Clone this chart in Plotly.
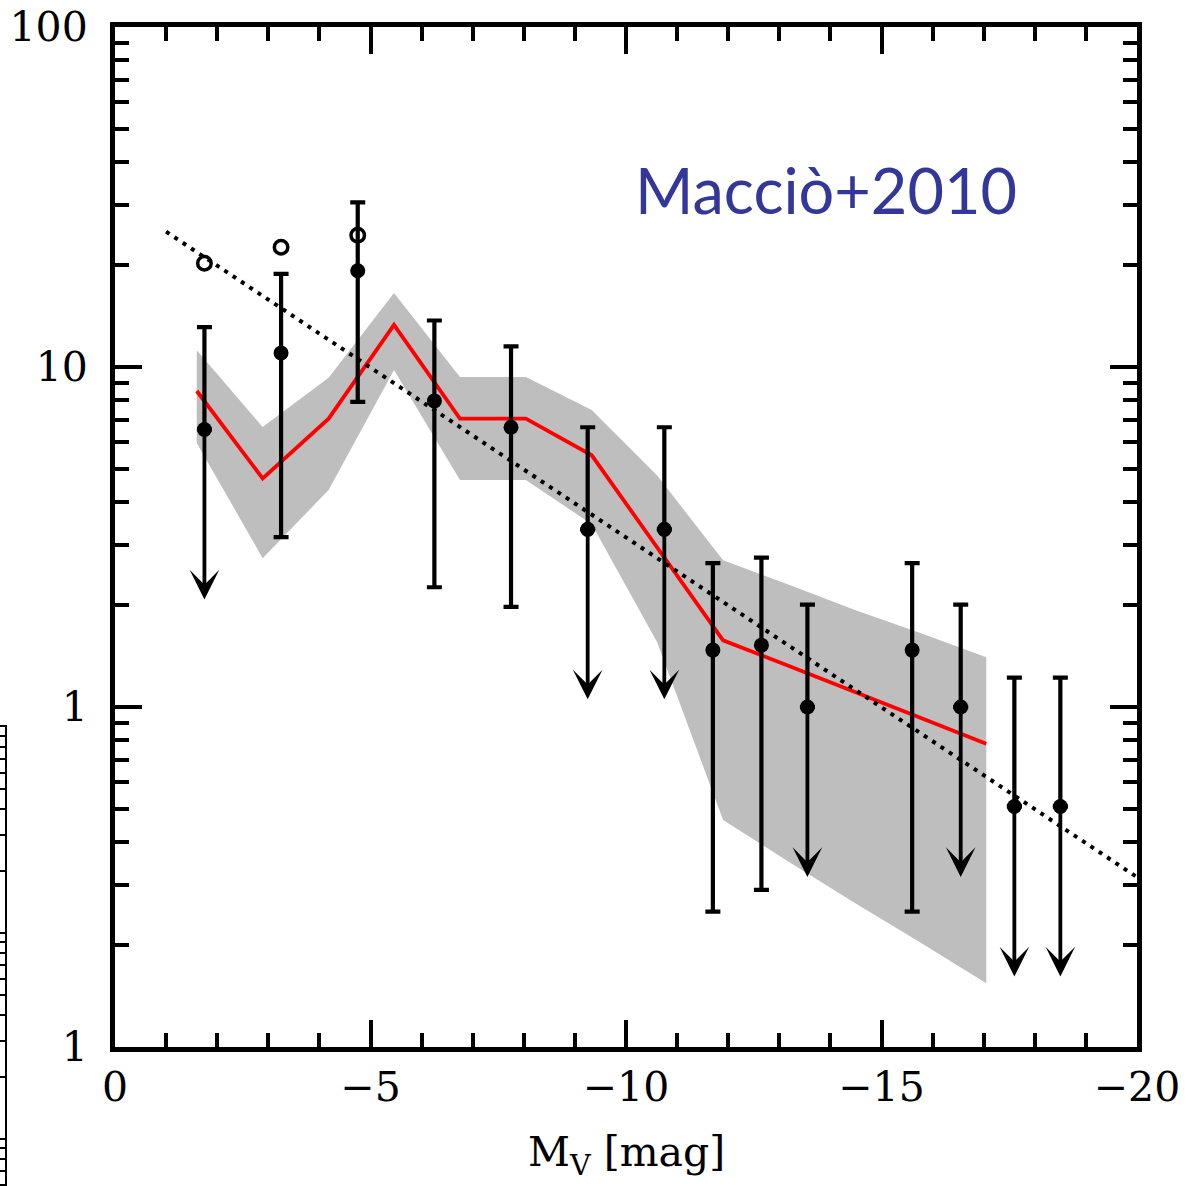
import numpy as np
import plotly.graph_objects as go

# ---- observed counts per magnitude bin ----
mag_obs = [-1.75, -3.25, -4.75, -6.25, -7.75, -9.25, -10.75,
           -11.7, -12.65, -13.55, -15.6, -16.55, -17.6, -18.5]
n_obs = [6.55, 11.0, 19.2, 7.95, 6.65, 3.33, 3.33,
         1.47, 1.52, 1.0, 1.47, 1.0, 0.51, 0.51]
n_obs_hi = [13.1, 18.8, 30.5, 13.7, 11.5, 6.65, 6.65,
            2.65, 2.75, 2.0, 2.65, 2.0, 1.22, 1.22]
# lower bound of the error bar; None marks an upper limit
n_obs_lo = [None, 3.16, 7.9, 2.25, 1.97, None, None,
            0.25, 0.29, None, 0.25, None, None, None]

# ---- corrected counts (open symbols) ----
mag_corr = [-1.75, -3.25, -4.75]
n_corr = [20.2, 22.5, 24.4]

# ---- model prediction: median and scatter band ----
mag_model = [-1.6, -2.89, -4.18, -5.46, -6.75, -8.04, -9.33,
             -10.61, -11.9, -13.19, -14.48, -15.76, -17.05]
n_model = [8.5, 4.7, 7.05, 13.3, 7.05, 7.05, 5.5,
           2.95, 1.57, 1.32, 1.11, 0.93, 0.78]
n_model_hi = [11.2, 6.66, 9.3, 16.5, 9.35, 9.35, 7.47,
              4.8, 2.7, 2.29, 1.93, 1.65, 1.40]
n_model_lo = [5.98, 2.74, 4.35, 9.8, 4.65, 4.65, 3.45,
              1.55, 0.465, 0.35, 0.265, 0.203, 0.154]

# ---- power-law fit (dotted) ----
mag_fit = [-1.0, -20.0]
n_fit = [25.0, 0.316]

# ---- axis ticks ----
x_major = [0, -5, -10, -15, -20]
x_major_text = ["0", "\u22125", "\u221210", "\u221215", "\u221220"]
x_minor = [m for m in range(-1, -20, -1) if m % 5 != 0]
y_major = [0.1, 1, 10, 100]
y_major_text = ["1", "1", "10", "100"]
y_minor = [k * 10.0 ** d for d in (-1, 0, 1) for k in range(2, 10)]

TICK_FONT = dict(family="DejaVu Serif", size=41, color="black")
LIMIT_DEX = 0.5  # length of the upper-limit arrows in dex

fig = go.Figure()

# scatter band of the model
fig.add_trace(go.Scatter(
    x=mag_model + mag_model[::-1],
    y=n_model_hi + n_model_lo[::-1],
    fill="toself", fillcolor="#bebebe",
    line=dict(width=0), mode="lines", hoverinfo="skip",
))

# model median
fig.add_trace(go.Scatter(
    x=mag_model, y=n_model, mode="lines",
    line=dict(color="#ff0000", width=3.8),
))

# dotted fit
fig.add_trace(go.Scatter(
    x=mag_fit, y=n_fit, mode="lines",
    line=dict(color="black", width=4, dash="4px,6px"),
))

# observed points with error bars
err_plus = [hi - n for hi, n in zip(n_obs_hi, n_obs)]
err_minus = [0.0 if lo is None else n - lo for lo, n in zip(n_obs_lo, n_obs)]
fig.add_trace(go.Scatter(
    x=mag_obs, y=n_obs, mode="markers",
    marker=dict(symbol="circle", size=15, color="black"),
    error_y=dict(type="data", symmetric=False, array=err_plus,
                 arrayminus=err_minus, color="black",
                 thickness=4.2, width=7.5),
))

# corrected counts
fig.add_trace(go.Scatter(
    x=mag_corr, y=n_corr, mode="markers",
    marker=dict(symbol="circle-open", size=13.5, color="black",
                line=dict(width=3.5, color="black")),
))

# downward arrows for upper limits
arrows = []
for m, n, lo in zip(mag_obs, n_obs, n_obs_lo):
    if lo is None:
        arrows.append(dict(
            x=m, y=np.log10(n) - LIMIT_DEX, xref="x", yref="y",
            ax=m, ay=np.log10(n), axref="x", ayref="y",
            text="", showarrow=True, arrowhead=3, arrowsize=1.3,
            arrowwidth=3.8, arrowcolor="black", standoff=0,
        ))

label_notes = [
    dict(text="Macci\u00f2+2010", x=826 / 1188, y=1 - 190 / 1186,
         xref="paper", yref="paper", showarrow=False,
         xanchor="center", yanchor="middle",
         font=dict(family="Lato", size=63, color="#34379a")),
    dict(text="M<sub>V</sub> [mag]", x=626 / 1188, y=1 - 1155 / 1186,
         xref="paper", yref="paper", showarrow=False,
         xanchor="center", yanchor="middle", font=TICK_FONT),
]

axis_common = dict(
    showline=True, linewidth=5, linecolor="black", mirror="ticks",
    ticks="inside", tickwidth=4, tickcolor="black", ticklen=27,
    showgrid=False, zeroline=False, tickfont=TICK_FONT, automargin=False,
)

fig.update_layout(
    width=1188, height=1186,
    margin=dict(l=0, r=0, t=0, b=0, autoexpand=False),
    paper_bgcolor="white", plot_bgcolor="white",
    showlegend=False,
    annotations=arrows + label_notes,
    xaxis=dict(
        domain=[115 / 1188, 1137 / 1188], range=[0, -20],
        tickmode="array", tickvals=x_major, ticktext=x_major_text,
        minor=dict(tickvals=x_minor, ticks="inside", ticklen=14,
                   tickwidth=4, tickcolor="black"),
        **axis_common,
    ),
    yaxis=dict(
        domain=[1 - 1047 / 1186, 1 - 27 / 1186], type="log", range=[-1, 2],
        tickmode="array", tickvals=y_major, ticktext=y_major_text,
        minor=dict(tickvals=y_minor, ticks="inside", ticklen=14,
                   tickwidth=4, tickcolor="black"),
        ticklabelstandoff=14,
        **axis_common,
    ),
    # edge of the neighbouring panel
    xaxis2=dict(domain=[0, 5 / 1188], anchor="y2", range=[0, 1],
                showline=True, linewidth=2, linecolor="black", side="top",
                ticks="", showticklabels=False, showgrid=False,
                zeroline=False, automargin=False),
    yaxis2=dict(domain=[0, 1 - 727 / 1186], anchor="x2", type="log",
                range=[-(1186 - 727) / 206, 0], side="right",
                showline=True, linewidth=2, linecolor="black",
                ticks="inside", ticklen=8, tickwidth=1.5, tickcolor="black",
                tickmode="array",
                tickvals=[k * 10.0 ** d for d in (-3, -2, -1) for k in range(1, 10)] + [1],
                showticklabels=False, showgrid=False, zeroline=False,
                automargin=False),
)
fig.add_trace(go.Scatter(x=[], y=[], xaxis="x2", yaxis="y2"))

fig.write_html("out.html")
